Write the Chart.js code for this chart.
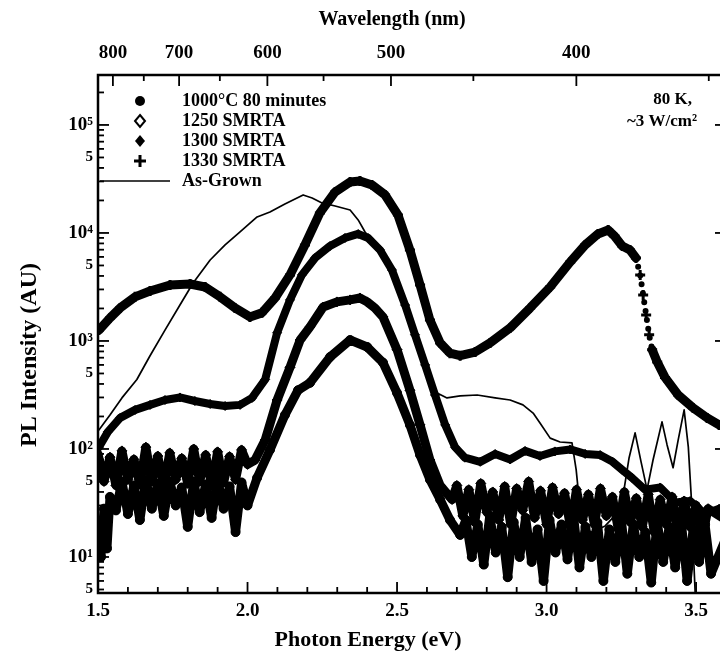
<!DOCTYPE html>
<html>
<head>
<meta charset="utf-8">
<title>PL spectra</title>
<script src="https://cdn.jsdelivr.net/npm/chart.js@4.4.1/dist/chart.umd.min.js"></script>
<style>
  html, body { margin: 0; padding: 0; background: #fff; overflow: hidden; }
  #box { width: 728px; height: 665px; }
</style>
</head>
<body>
<div id="box"><canvas id="plChart" width="728" height="665"></canvas></div>
<script>
// axis ticks
const energyTicks = [1.5, 2.0, 2.5, 3.0, 3.5];
const wavelengthTicks = [800, 700, 600, 500, 400];
const intensityTicks = [5, 10, 50, 100, 500, 1000, 5000, 10000, 50000, 100000];

// 1330 SMRTA (+)
const energy1330 = [1.503, 1.540, 1.574, 1.624, 1.674, 1.741, 1.808, 1.858, 1.908, 1.958, 2.008, 2.048, 2.092, 2.142, 2.192, 2.242, 2.293, 2.343, 2.376, 2.416, 2.460, 2.503, 2.543, 2.577, 2.610, 2.644, 2.677, 2.711, 2.761, 2.811, 2.878, 2.945, 3.012, 3.079, 3.129, 3.172, 3.206, 3.227, 3.253, 3.279, 3.299, 3.313, 3.323, 3.333, 3.343, 3.353, 3.370, 3.396, 3.440, 3.490, 3.537, 3.577, 3.60];
const pl1330 = [1260, 1630, 2020, 2560, 2900, 3300, 3370, 3160, 2560, 2020, 1670, 1820, 2500, 4090, 7740, 15320, 23970, 29670, 30300, 27830, 22480, 14680, 6960, 3300, 1560, 960, 770, 730, 790, 960, 1320, 2020, 3160, 5390, 7740, 9790, 10660, 9380, 7580, 6960, 5870, 4090, 2670, 1740, 1140, 830, 640, 460, 316, 240, 194, 167, 160];

// 1300 SMRTA (filled diamond)
const energy1300 = [1.503, 1.533, 1.574, 1.624, 1.674, 1.724, 1.774, 1.824, 1.875, 1.925, 1.975, 2.015, 2.059, 2.099, 2.142, 2.182, 2.226, 2.276, 2.326, 2.370, 2.403, 2.443, 2.483, 2.527, 2.560, 2.594, 2.627, 2.661, 2.694, 2.727, 2.778, 2.828, 2.878, 2.928, 2.978, 3.028, 3.079, 3.129, 3.179, 3.221, 3.253, 3.286, 3.329, 3.380, 3.430, 3.480, 3.530, 3.577, 3.60];
const pl1300 = [104, 144, 194, 230, 256, 284, 300, 278, 261, 250, 256, 297, 440, 1190, 2400, 4090, 5870, 7580, 8990, 9790, 8990, 6960, 4540, 2150, 1140, 600, 316, 167, 104, 83, 76, 90, 80, 96, 86, 95, 99, 90, 88, 76, 64, 54, 42, 44, 32, 33, 25, 28, 26];

// 1250 SMRTA (open diamond)
const energy1250 = [1.50, 1.52, 1.54, 1.56, 1.58, 1.60, 1.62, 1.64, 1.66, 1.68, 1.70, 1.72, 1.74, 1.76, 1.78, 1.80, 1.82, 1.84, 1.86, 1.88, 1.90, 1.92, 1.94, 1.96, 1.98, 2.00,
  2.025, 2.059, 2.099, 2.142, 2.176, 2.209, 2.253, 2.299, 2.343, 2.376, 2.400, 2.426, 2.453, 2.500, 2.543, 2.577, 2.610, 2.644, 2.684,
  2.70, 2.72, 2.74, 2.76, 2.78, 2.80, 2.82, 2.84, 2.86, 2.88, 2.90, 2.92, 2.94, 2.96, 2.98, 3.00, 3.02, 3.04, 3.06, 3.08, 3.10, 3.12, 3.14, 3.16, 3.18, 3.20, 3.22, 3.24, 3.26, 3.28, 3.30, 3.32, 3.34, 3.36, 3.38, 3.40, 3.42, 3.44, 3.46, 3.48, 3.50, 3.52, 3.54, 3.60];
const pl1250 = [90, 50, 84, 46, 96, 52, 80, 47, 104, 50, 86, 45, 92, 52, 82, 48, 100, 50, 88, 46, 94, 49, 85, 52, 98, 72,
  79, 121, 284, 570, 1020, 1350, 2060, 2300, 2400, 2500, 2300, 2020, 1670, 830, 350, 167, 79, 46, 34,
  46, 24, 42, 21, 48, 26, 40, 22, 45, 20, 43, 27, 50, 23, 41, 20, 44, 25, 39, 19, 42, 22, 38, 20, 43, 24, 36, 18, 40, 21, 35, 19, 38, 17, 34, 20, 36, 16, 33, 19, 30, 15, 28, 22];

// 1000 C 80 minutes (filled circle)
const energy1000 = [1.50, 1.51, 1.52, 1.53, 1.54, 1.56, 1.58, 1.60, 1.62, 1.64, 1.66, 1.68, 1.70, 1.72, 1.74, 1.76, 1.78, 1.80, 1.82, 1.84, 1.86, 1.88, 1.90, 1.92, 1.94, 1.96, 1.98, 2.00,
  2.032, 2.075, 2.125, 2.169, 2.209, 2.276, 2.343, 2.400, 2.453, 2.500, 2.543, 2.577, 2.610, 2.644, 2.677, 2.711,
  2.73, 2.75, 2.77, 2.79, 2.81, 2.83, 2.85, 2.87, 2.89, 2.91, 2.93, 2.95, 2.97, 2.99, 3.01, 3.03, 3.05, 3.07, 3.09, 3.11, 3.13, 3.15, 3.17, 3.19, 3.21, 3.23, 3.25, 3.27, 3.29, 3.31, 3.33, 3.35, 3.37, 3.39, 3.41, 3.43, 3.45, 3.47, 3.49, 3.51, 3.53, 3.55, 3.60];
const pl1000 = [17, 10, 28, 12, 36, 27, 50, 25, 46, 22, 52, 28, 48, 24, 50, 30, 44, 19, 50, 26, 47, 23, 52, 28, 45, 17, 49, 30,
  54, 98, 206, 350, 410, 710, 1020, 880, 630, 330, 167, 88, 52, 34, 22, 16,
  22, 10, 20, 8.5, 24, 11, 19, 6.5, 21, 10, 23, 9, 18, 6, 22, 11, 20, 9.5, 24, 8, 19, 10, 21, 6, 18, 9, 22, 7, 20, 10, 17, 5.8, 21, 9, 19, 8, 22, 6, 18, 9, 20, 7, 15];

// As-Grown (thin line)
const energyGrown = [1.503, 1.540, 1.580, 1.630, 1.674, 1.724, 1.774, 1.818, 1.875, 1.925, 1.975, 2.032, 2.075, 2.125, 2.186, 2.216, 2.249, 2.293, 2.343, 2.370, 2.393, 2.443, 2.493, 2.527, 2.554, 2.600, 2.634, 2.667, 2.711, 2.768, 2.828, 2.878, 2.921, 2.955, 2.978, 3.012, 3.045, 3.085, 3.099, 3.109, 3.122, 3.152, 3.196, 3.239, 3.259, 3.276, 3.296, 3.316, 3.336, 3.356, 3.386, 3.403, 3.423, 3.440, 3.460, 3.474, 3.487, 3.492, 3.499];
const plGrown = [150, 206, 297, 440, 730, 1260, 2150, 3440, 5620, 7740, 10210, 14060, 15650, 18560, 22480, 21090, 18960, 17780, 16330, 13200, 10210, 6960, 3670, 1940, 1260, 570, 330, 297, 310, 316, 297, 284, 256, 215, 174, 126, 116, 114, 64, 34, 17.8, 17, 19.4, 26, 42, 83, 141, 76, 42, 79, 178, 109, 67, 121, 230, 104, 25.6, 9.4, 3.5];

const serif = "'Liberation Serif', 'DejaVu Serif', serif";
const sup = { '0': '⁰', '1': '¹', '2': '²', '3': '³', '4': '⁴', '5': '⁵' };

// the 1330 curve drops so fast here that its symbols show up as separate dots
const steepFrom = 3.29, steepTo = 3.36;
const isSteep = ctx => ctx.p0.parsed.x >= steepFrom && ctx.p1.parsed.x <= steepTo;

function toPoints(xs, ys) {
  return xs.map((x, i) => ({ x: x, y: ys[i] }));
}

function symbolLine(label, xs, ys, width, style, radius) {
  return {
    label: label,
    data: toPoints(xs, ys),
    borderColor: '#000',
    backgroundColor: '#000',
    borderWidth: width,
    borderJoinStyle: 'round',
    borderCapStyle: 'round',
    pointStyle: style,
    pointRadius: radius,
    pointBorderWidth: style === 'cross' ? 3 : 1,
    pointBorderColor: '#000',
    pointBackgroundColor: '#000',
    tension: 0
  };
}

// frame and inward tick marks on all four sides
const frameTicks = {
  id: 'frameTicks',
  afterDatasetsDraw(chart) {
    const { ctx, chartArea: a, scales } = chart;
    const tick = (x1, y1, x2, y2) => { ctx.beginPath(); ctx.moveTo(x1, y1); ctx.lineTo(x2, y2); ctx.stroke(); };
    ctx.save();
    ctx.strokeStyle = '#000';
    ctx.lineWidth = 2.5;
    ctx.strokeRect(a.left, a.top, a.right - a.left, a.bottom - a.top);
    ctx.lineWidth = 1.8;
    for (let i = 15; i <= 36; i++) {
      const x = scales.x.getPixelForValue(i / 10);
      tick(x, a.bottom, x, a.bottom - (i % 5 === 0 ? 11 : 6));
    }
    for (let w = 350; w <= 800; w += 50) {
      const x = scales.x2.getPixelForValue(1239.84 / w);
      tick(x, a.top, x, a.top + (w % 100 === 0 ? 11 : 6));
    }
    for (let p = 0; p <= 5; p++) {
      for (let m = 1; m <= 9; m++) {
        const v = m * Math.pow(10, p);
        if (v < scales.y.min || v > scales.y.max) continue;
        const y = scales.y.getPixelForValue(v);
        const len = m === 1 ? 11 : 6;
        tick(a.left, y, a.left + len, y);
        tick(a.right, y, a.right - len, y);
      }
    }
    ctx.restore();
  }
};

// axis titles, legend and the measurement note
const figureText = {
  id: 'figureText',
  afterDraw(chart) {
    const ctx = chart.ctx;
    ctx.save();
    ctx.fillStyle = '#000';
    ctx.strokeStyle = '#000';
    ctx.textBaseline = 'middle';
    ctx.textAlign = 'center';
    ctx.font = 'bold 20px ' + serif;
    ctx.fillText('Wavelength (nm)', 392, 20);
    ctx.font = 'bold 22px ' + serif;
    ctx.fillText('Photon Energy (eV)', 368, 640);
    ctx.save();
    ctx.translate(30, 355);
    ctx.rotate(-Math.PI / 2);
    ctx.font = 'bold 24px ' + serif;
    ctx.fillText('PL Intensity (AU)', 0, 0);
    ctx.restore();

    // legend
    const rows = chart.data.datasets.map(d => d.label);
    const ys = [101, 121, 141, 161, 181];
    const sx = 140;
    ctx.lineWidth = 2;
    ctx.beginPath(); ctx.arc(sx, ys[0], 5, 0, Math.PI * 2); ctx.fill();
    ctx.beginPath();
    ctx.moveTo(sx, ys[1] - 6); ctx.lineTo(sx + 5, ys[1]); ctx.lineTo(sx, ys[1] + 6); ctx.lineTo(sx - 5, ys[1]); ctx.closePath();
    ctx.stroke();
    ctx.beginPath();
    ctx.moveTo(sx, ys[2] - 6); ctx.lineTo(sx + 5, ys[2]); ctx.lineTo(sx, ys[2] + 6); ctx.lineTo(sx - 5, ys[2]); ctx.closePath();
    ctx.fill();
    ctx.lineWidth = 3;
    ctx.beginPath();
    ctx.moveTo(sx - 6, ys[3]); ctx.lineTo(sx + 6, ys[3]);
    ctx.moveTo(sx, ys[3] - 6); ctx.lineTo(sx, ys[3] + 6);
    ctx.stroke();
    ctx.lineWidth = 1.5;
    ctx.beginPath(); ctx.moveTo(100, ys[4]); ctx.lineTo(170, ys[4]); ctx.stroke();
    ctx.textAlign = 'left';
    ctx.font = 'bold 18px ' + serif;
    rows.forEach((t, i) => ctx.fillText(t, 182, ys[i]));

    ctx.textAlign = 'right';
    ctx.font = 'bold 17px ' + serif;
    ctx.fillText('80 K,', 692, 100);
    ctx.fillText('~3 W/cm²', 697, 122);
    ctx.restore();
  }
};

const tickFont = { family: serif, size: 19, weight: 'bold' };

const ctx = document.getElementById('plChart').getContext('2d');

const plChart = new Chart(ctx, {
  type: 'line',
  data: {
    datasets: [
      symbolLine('1000°C 80 minutes', energy1000, pl1000, 9, 'circle', 4.5),
      symbolLine('1250 SMRTA', energy1250, pl1250, 9, 'rectRot', 5),
      symbolLine('1300 SMRTA', energy1300, pl1300, 8, 'rectRot', 4.5),
      Object.assign(symbolLine('1330 SMRTA', energy1330, pl1330, 9, 'cross', 5), {
        segment: {
          borderDash: c => isSteep(c) ? [0, 9] : undefined,
          borderWidth: c => isSteep(c) ? 6 : undefined
        }
      }),
      symbolLine('As-Grown', energyGrown, plGrown, 1.7, 'circle', 0)
    ]
  },
  options: {
    responsive: false,
    animation: false,
    events: [],
    layout: { autoPadding: false, padding: { left: 0, right: 2, top: 0, bottom: 0 } },
    plugins: {
      legend: { display: false },
      tooltip: { enabled: false }
    },
    scales: {
      x: {
        type: 'linear',
        position: 'bottom',
        min: 1.5,
        max: 3.6,
        afterBuildTicks: s => { s.ticks = energyTicks.map(v => ({ value: v })); },
        afterFit: s => { s.height = 72; },
        grid: { display: false, drawTicks: false },
        border: { display: false },
        ticks: {
          autoSkip: false, maxRotation: 0, padding: 7, color: '#000', font: tickFont,
          callback: v => Number(v).toFixed(1)
        }
      },
      x2: {
        type: 'linear',
        position: 'top',
        min: 1.5,
        max: 3.6,
        afterBuildTicks: s => { s.ticks = wavelengthTicks.map(w => ({ value: 1239.84 / w })); },
        afterFit: s => { s.height = 75; },
        grid: { display: false, drawTicks: false },
        border: { display: false },
        ticks: {
          autoSkip: false, maxRotation: 0, padding: 11, color: '#000', font: tickFont,
          callback: (v, i) => String(wavelengthTicks[i])
        }
      },
      y: {
        type: 'logarithmic',
        min: 4.64,
        max: 290000,
        afterBuildTicks: s => { s.ticks = intensityTicks.map(v => ({ value: v })); },
        afterFit: s => { s.width = 98; },
        grid: { display: false, drawTicks: false },
        border: { display: false },
        ticks: {
          autoSkip: false, padding: 5, color: '#000',
          font: c => ({ family: serif, weight: 'bold', size: String(c.tick.value)[0] === '5' ? 15 : 19 }),
          callback: v => {
            const s = String(v);
            if (s[0] === '5') return '5';
            return '10' + sup[String(s.length - 1)];
          }
        }
      }
    }
  },
  plugins: [frameTicks, figureText]
});
</script>
</body>
</html>
